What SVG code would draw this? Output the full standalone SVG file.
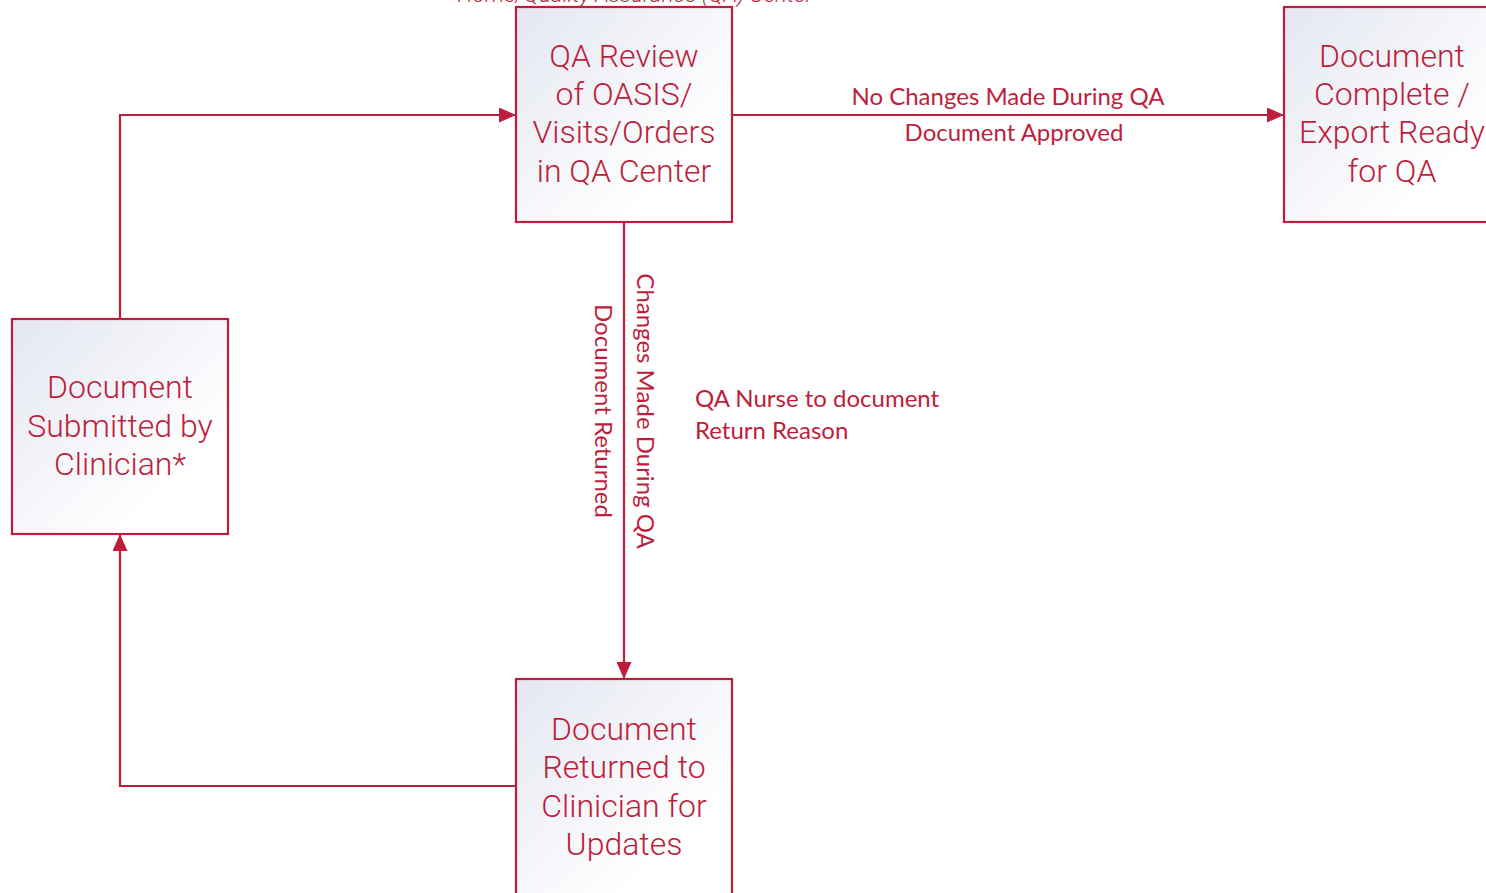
<svg xmlns="http://www.w3.org/2000/svg" width="1486" height="893" viewBox="0 0 1486 893">
<defs>
<linearGradient id="g" x1="0" y1="0" x2="1" y2="1">
<stop offset="0" stop-color="#e4e7f1"/>
<stop offset="0.75" stop-color="#ffffff"/>
</linearGradient>
<marker id="ah" markerWidth="17" markerHeight="15" refX="17" refY="7.5" orient="auto" markerUnits="userSpaceOnUse">
<path d="M0,0 L17,7.5 L0,15 Z" fill="#be1e3c"/>
</marker>
<style>
.box{fill:url(#g);stroke:#be1e3c;stroke-width:2.2}
.nt{font-family:Roboto,"Liberation Sans",sans-serif;font-weight:300;font-size:32px;fill:#be1e3c;text-anchor:middle}
.el{font-family:Lato,"Liberation Sans",sans-serif;font-size:24px;fill:#be1e3c}
.cn{fill:none;stroke:#be1e3c;stroke-width:2.2}
</style>
</defs>
<rect width="1486" height="893" fill="#ffffff"/>
<text x="635" y="2" font-family="Roboto,'Liberation Sans',sans-serif" font-weight="300" font-style="italic" font-size="22.5" fill="#be1e3c" text-anchor="middle">Home/Quality Assurance (QA) Center</text>
<g id="connectors">
<path class="cn" d="M120,319 V115 H516" marker-end="url(#ah)"/>
<path class="cn" d="M732,115 H1284" marker-end="url(#ah)"/>
<path class="cn" d="M624,222 V679" marker-end="url(#ah)"/>
<path class="cn" d="M516,786 H120 V534" marker-end="url(#ah)"/>
<text class="el" x="1008" y="105" text-anchor="middle">No Changes Made During QA</text>
<text class="el" x="1014" y="141" text-anchor="middle">Document Approved</text>
<text class="el" transform="translate(637,411) rotate(90)" text-anchor="middle">Changes Made During QA</text>
<text class="el" transform="translate(595,411) rotate(90)" text-anchor="middle">Document Returned</text>
<text class="el" x="695" y="407">QA Nurse to document</text>
<text class="el" x="695" y="439">Return Reason</text>
</g>
<g id="qa-review">
<rect class="box" x="516" y="7" width="216" height="215"/>
<text class="nt"><tspan x="624" y="67">QA Review</tspan><tspan x="624" y="105">of OASIS/</tspan><tspan x="624" y="143">Visits/Orders</tspan><tspan x="624" y="182">in QA Center</tspan></text>
</g>
<g id="doc-complete">
<rect class="box" x="1284" y="7" width="216" height="215"/>
<text class="nt"><tspan x="1392" y="67">Document</tspan><tspan x="1392" y="105">Complete /</tspan><tspan x="1392" y="143">Export Ready</tspan><tspan x="1392" y="182">for QA</tspan></text>
</g>
<g id="doc-submitted">
<rect class="box" x="12" y="319" width="216" height="215"/>
<text class="nt"><tspan x="120" y="398">Document</tspan><tspan x="120" y="437">Submitted by</tspan><tspan x="120" y="475">Clinician*</tspan></text>
</g>
<g id="doc-returned">
<rect class="box" x="516" y="679" width="216" height="216"/>
<text class="nt"><tspan x="624" y="740">Document</tspan><tspan x="624" y="778">Returned to</tspan><tspan x="624" y="817">Clinician for</tspan><tspan x="624" y="855">Updates</tspan></text>
</g>
</svg>
